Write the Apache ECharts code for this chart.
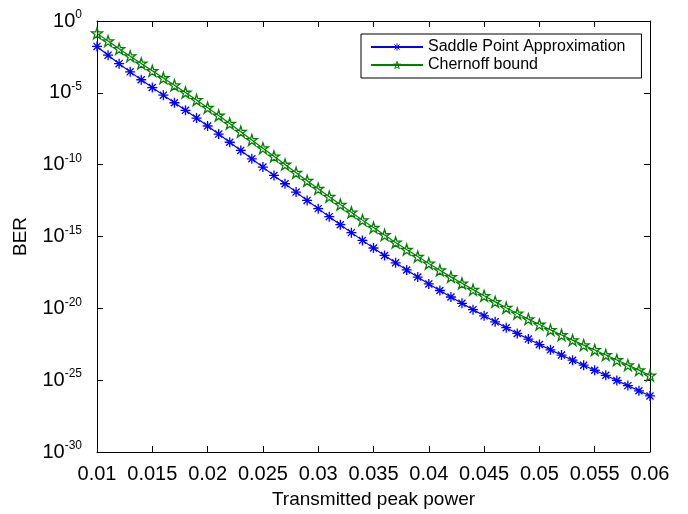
<!DOCTYPE html>
<html>
<head>
<meta charset="utf-8">
<script src="https://cdn.jsdelivr.net/npm/echarts@6/dist/echarts.min.js"></script>
<style>
  html, body { margin: 0; padding: 0; background: #fff; }
  #chart { width: 688px; height: 514px; }
</style>
</head>
<body>
<div id="chart"></div>
<script>
// Transmitted peak power (x values)
const power = [
  0.010, 0.011, 0.012, 0.013, 0.014, 0.015, 0.016, 0.017, 0.018, 0.019,
  0.020, 0.021, 0.022, 0.023, 0.024, 0.025, 0.026, 0.027, 0.028, 0.029,
  0.030, 0.031, 0.032, 0.033, 0.034, 0.035, 0.036, 0.037, 0.038, 0.039,
  0.040, 0.041, 0.042, 0.043, 0.044, 0.045, 0.046, 0.047, 0.048, 0.049,
  0.050, 0.051, 0.052, 0.053, 0.054, 0.055, 0.056, 0.057, 0.058, 0.059,
  0.060
];

// BER from the saddle point approximation
const berSaddle = [
  1.70e-2, 4.17e-3, 1.07e-3, 2.88e-4, 8.13e-5, 2.34e-5, 6.92e-6, 2.04e-6, 6.03e-7, 1.74e-7,
  4.90e-8, 1.35e-8, 3.63e-9, 9.77e-10, 2.57e-10, 6.76e-11, 1.78e-11, 4.68e-12, 1.23e-12, 3.24e-13,
  8.71e-14, 2.40e-14, 6.61e-15, 1.86e-15, 5.37e-16, 1.58e-16, 4.79e-17, 1.48e-17, 4.68e-18, 1.51e-18,
  5.01e-19, 1.74e-19, 6.17e-20, 2.24e-20, 8.13e-21, 3.02e-21, 1.15e-21, 4.47e-22, 1.78e-22, 7.24e-23,
  3.02e-23, 1.29e-23, 5.62e-24, 2.45e-24, 1.10e-24, 4.90e-25, 2.19e-25, 9.55e-26, 4.17e-26, 1.82e-26,
  7.94e-27
];

// BER upper bound (Chernoff)
const berChernoff = [
  1.41e-1, 3.98e-2, 1.15e-2, 3.55e-3, 1.12e-3, 3.39e-4, 1.07e-4, 3.39e-5, 1.05e-5, 3.16e-6,
  9.33e-7, 2.63e-7, 7.24e-8, 1.95e-8, 5.25e-9, 1.41e-9, 3.80e-10, 1.02e-10, 2.75e-11, 7.59e-12,
  2.09e-12, 5.89e-13, 1.66e-13, 4.79e-14, 1.38e-14, 4.17e-15, 1.26e-15, 3.89e-16, 1.23e-16, 3.98e-17,
  1.32e-17, 4.47e-18, 1.55e-18, 5.50e-19, 2.00e-19, 7.41e-20, 2.82e-20, 1.10e-20, 4.37e-21, 1.78e-21,
  7.41e-22, 3.16e-22, 1.38e-22, 6.17e-23, 2.75e-23, 1.26e-23, 5.62e-24, 2.51e-24, 1.12e-24, 5.01e-25,
  2.14e-25
];

const seriesNames = ['Saddle Point Approximation', 'Chernoff bound'];
const xTitle = 'Transmitted peak power';
const yTitle = 'BER';

const FONT = '"Liberation Sans", Arial, Helvetica, sans-serif';
const BLUE = '#0000ff';
const GREEN = '#008000';

// marker shapes: 8-arm asterisk and five-pointed star outline
const asterisk = 'path://M0,-1L0,1M-1,0L1,0M-0.707,-0.707L0.707,0.707M-0.707,0.707L0.707,-0.707';
const pentagram = 'path://M0,-1L0.2245,-0.309L0.9511,-0.309L0.3633,0.118L0.5878,0.809L0,0.382L-0.5878,0.809L-0.3633,0.118L-0.9511,-0.309L-0.2245,-0.309Z';

const pairs = (ys) => power.map((x, i) => [x, ys[i]]);

const axisLine = { show: true, onZero: false, lineStyle: { color: '#000', width: 1 } };
const tickIn = { show: true, inside: true, length: 6, lineStyle: { color: '#000', width: 1 } };

const xBase = { type: 'value', min: 0.01, max: 0.06, interval: 0.005, splitLine: { show: false }, axisLine: axisLine, axisTick: tickIn };
// the lower bound settles on 1e-30 from the data (a literal min that small gets rounded away)
const yBase = { type: 'log', logBase: 10, max: 1, interval: 5, splitLine: { show: false }, minorTick: { show: false }, axisLine: axisLine, axisTick: tickIn };

const chart = echarts.init(document.getElementById('chart'), null, { renderer: 'canvas' });

chart.setOption({
  backgroundColor: '#fff',
  animation: false,
  textStyle: { fontFamily: FONT },
  grid: { left: 97, right: 38, top: 21, bottom: 57, containLabel: false },
  legend: {
    orient: 'vertical',
    left: 361,
    top: 34,
    padding: [5, 16, 5, 9],
    itemGap: 2,
    itemWidth: 52,
    itemHeight: 9,
    backgroundColor: '#fff',
    borderColor: '#000',
    borderWidth: 1,
    textStyle: { fontFamily: FONT, fontSize: 16, color: '#000' },
    data: [
      { name: seriesNames[0], itemStyle: { color: BLUE, borderColor: BLUE, borderWidth: 1 } },
      { name: seriesNames[1], itemStyle: { color: 'rgba(255,255,255,0)', borderColor: GREEN, borderWidth: 1 } }
    ]
  },
  xAxis: [
    Object.assign({}, xBase, {
      position: 'bottom',
      name: xTitle,
      nameLocation: 'middle',
      nameGap: 38,
      nameTextStyle: { fontFamily: FONT, fontSize: 19, color: '#000' },
      axisLabel: {
        fontFamily: FONT, fontSize: 20, color: '#000', margin: 12,
        formatter: (v) => String(parseFloat(v.toFixed(3)))
      }
    }),
    Object.assign({}, xBase, { position: 'top', axisLabel: { show: false } })
  ],
  yAxis: [
    Object.assign({}, yBase, {
      position: 'left',
      name: yTitle,
      nameLocation: 'middle',
      nameGap: 67,
      nameTextStyle: { fontFamily: FONT, fontSize: 19, color: '#000' },
      axisLabel: {
        margin: 15,
        color: '#000',
        formatter: (v) => '{b|10}{s|' + Math.round(Math.log10(v)) + '}',
        rich: {
          b: { fontFamily: FONT, fontSize: 20, color: '#000' },
          s: { fontFamily: FONT, fontSize: 12, color: '#000', padding: [0, 0, 12, 0] }
        }
      }
    }),
    Object.assign({}, yBase, { position: 'right', axisLabel: { show: false } })
  ],
  series: [
    {
      name: seriesNames[0],
      type: 'line',
      data: pairs(berSaddle),
      symbol: asterisk,
      symbolSize: 10,
      showAllSymbol: true,
      lineStyle: { color: BLUE, width: 1.2 },
      itemStyle: { color: BLUE, borderColor: BLUE, borderWidth: 1.3 }
    },
    {
      name: seriesNames[1],
      type: 'line',
      data: pairs(berChernoff),
      symbol: pentagram,
      symbolSize: 11,
      showAllSymbol: true,
      lineStyle: { color: GREEN, width: 1.2 },
      itemStyle: { color: 'rgba(255,255,255,0)', borderColor: GREEN, borderWidth: 1.3 }
    },
    {
      // invisible copy that gives the right-hand frame axis the same extent
      type: 'line',
      xAxisIndex: 1,
      yAxisIndex: 1,
      data: pairs(berSaddle),
      symbol: 'none',
      silent: true,
      lineStyle: { opacity: 0 },
      tooltip: { show: false }
    }
  ]
});
</script>
</body>
</html>
